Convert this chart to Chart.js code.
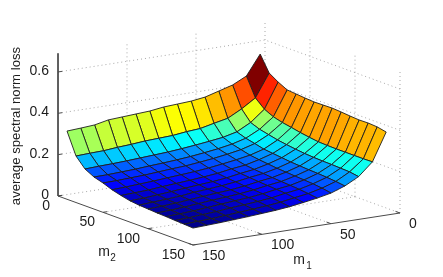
<!DOCTYPE html>
<html>
<head>
<meta charset="utf-8">
<style>
html, body { margin: 0; padding: 0; background: #fff; }
canvas { display: block; }
</style>
<script src="https://cdn.jsdelivr.net/npm/chart.js@4"></script>
</head>
<body>
<canvas id="myChart" width="443" height="277"></canvas>
<script>
// grid of the surface
const m1Values = [10, 20, 30, 40, 50, 60, 70, 80, 90, 100, 110, 120, 130, 140, 150];
const m2Values = [10, 20, 30, 40, 50, 60, 70, 80, 90, 100, 110, 120, 130, 140, 150];

// one row per m2, one column per m1
const lossM2_10 = [.558, .462, .429, .410, .391, .382, .378, .374, .365, .361, .357, .353, .339, .334, .330];
const lossM2_20 = [.482, .372, .329, .294, .280, .265, .260, .252, .249, .246, .240, .236, .230, .228, .225];
const lossM2_30 = [.454, .333, .279, .244, .228, .219, .211, .204, .198, .194, .190, .186, .183, .181, .178];
const lossM2_40 = [.432, .312, .262, .229, .211, .199, .190, .182, .176, .171, .167, .162, .159, .156, .155];
const lossM2_50 = [.428, .300, .252, .219, .200, .188, .178, .170, .163, .159, .154, .149, .146, .143, .142];
const lossM2_60 = [.424, .292, .242, .208, .189, .177, .167, .158, .151, .146, .141, .136, .132, .128, .125];
const lossM2_70 = [.421, .283, .235, .203, .183, .167, .159, .148, .141, .135, .130, .125, .119, .116, .113];
const lossM2_80 = [.422, .276, .229, .198, .178, .162, .153, .142, .134, .129, .123, .117, .111, .106, .103];
const lossM2_90 = [.423, .270, .224, .193, .173, .158, .149, .138, .130, .124, .119, .111, .106, .102, .098];
const lossM2_100 = [.420, .268, .221, .190, .170, .154, .145, .134, .126, .121, .115, .109, .103, .098, .095];
const lossM2_110 = [.416, .267, .219, .187, .167, .151, .142, .131, .123, .117, .112, .106, .100, .095, .092];
const lossM2_120 = [.413, .267, .218, .185, .164, .148, .139, .128, .120, .115, .109, .103, .097, .093, .090];
const lossM2_130 = [.414, .267, .216, .182, .161, .145, .136, .124, .117, .111, .106, .099, .095, .090, .087];
const lossM2_140 = [.411, .267, .214, .178, .156, .140, .130, .119, .112, .106, .101, .096, .091, .088, .085];
const lossM2_150 = [.402, .268, .207, .172, .148, .134, .123, .113, .106, .101, .096, .092, .088, .085, .082];
const lossRows = [lossM2_10, lossM2_20, lossM2_30, lossM2_40, lossM2_50, lossM2_60, lossM2_70, lossM2_80,
    lossM2_90, lossM2_100, lossM2_110, lossM2_120, lossM2_130, lossM2_140, lossM2_150];

// ticks
const m1Ticks = [0, 50, 100, 150];
const m2Ticks = [0, 50, 100, 150];
const zTicks = [0, 0.2, 0.4, 0.6];
const zTop = 0.69;
const lossMin = 0.082;
const lossMax = 0.558;

// the view, matlab style parallel projection
function project(m1, m2, z) {
    return {
        x: 265 - 1.38 * m1 + 0.9 * m2,
        y: 164 + 0.2133 * m1 + 0.3267 * m2 - 206.7 * z,
    };
}

function jet(v) {
    const c = (o) => Math.round(255 * Math.max(0, Math.min(1, 1.5 - Math.abs(4 * v - o))));
    return `rgb(${c(3)}, ${c(2)}, ${c(1)})`;
}

function lineSet(points, color, width, dash) {
    return {
        data: points,
        showLine: true,
        fill: false,
        tension: 0,
        pointRadius: 0,
        borderColor: color,
        borderWidth: width,
        borderDash: dash || [],
    };
}

const datasets = [];
const gridColor = '#a8a8a8';
const gridDash = [1, 3];
const axisColor = '#4a4a4a';

// back walls and floor
for (const t of m1Ticks) {
    if (t < 150) {
        datasets.push(lineSet([project(t, 0, 0), project(t, 150, 0)], gridColor, 1, gridDash));
        datasets.push(lineSet([project(t, 0, 0), project(t, 0, zTop)], gridColor, 1, gridDash));
    }
}
for (const t of m2Ticks) {
    if (t < 150) {
        datasets.push(lineSet([project(0, t, 0), project(150, t, 0)], gridColor, 1, gridDash));
    }
    if (t > 0) {
        datasets.push(lineSet([project(0, t, 0), project(0, t, zTop)], gridColor, 1, gridDash));
    }
}
for (const t of zTicks) {
    if (t > 0) {
        datasets.push(lineSet([project(150, 0, t), project(0, 0, t), project(0, 150, t)], gridColor, 1, gridDash));
    }
}

// axis lines and tick marks
datasets.push(lineSet([project(150, 0, zTop), project(150, 0, 0), project(150, 150, 0), project(0, 150, 0)], axisColor, 1));
for (const t of zTicks) {
    datasets.push(lineSet([project(150, 0, t), project(147, 0, t)], axisColor, 1));
}
for (const t of m2Ticks) {
    datasets.push(lineSet([project(150, t, 0), project(147, t, 0)], axisColor, 1));
}
for (const t of m1Ticks) {
    datasets.push(lineSet([project(t, 150, 0), project(t, 145, 0)], axisColor, 1));
}

// surface, back cells first so the front ones cover them
for (let j = 0; j < m2Values.length - 1; j++) {
    for (let i = 0; i < m1Values.length - 1; i++) {
        const corners = [
            project(m1Values[i], m2Values[j], lossRows[j][i]),
            project(m1Values[i + 1], m2Values[j], lossRows[j][i + 1]),
            project(m1Values[i + 1], m2Values[j + 1], lossRows[j + 1][i + 1]),
            project(m1Values[i], m2Values[j + 1], lossRows[j + 1][i]),
            project(m1Values[i], m2Values[j], lossRows[j][i]),
        ];
        const level = (lossRows[j][i] - lossMin) / (lossMax - lossMin);
        datasets.push({
            data: corners,
            showLine: true,
            fill: 'shape',
            tension: 0,
            pointRadius: 0,
            backgroundColor: jet(level),
            borderColor: '#1e1e1e',
            borderWidth: 0.9,
        });
    }
}

// chart.js paints dataset 0 last, so number them by paint order
datasets.forEach((d, idx) => { d.order = datasets.length - idx; });

const textFont = '14px "Liberation Sans"';

// tick labels and axis titles are placed on the same scales as the marks
const axisText = {
    id: 'axisText',
    afterDraw(chart) {
        const { ctx, scales } = chart;
        const put = (text, px, py, font) => {
            ctx.font = font || textFont;
            ctx.fillText(text, scales.x.getPixelForValue(px), scales.y.getPixelForValue(py));
        };
        ctx.save();
        ctx.fillStyle = '#1c1c1c';
        ctx.textBaseline = 'middle';

        ctx.textAlign = 'right';
        for (const t of zTicks) {
            const p = project(150, 0, t);
            put(String(t), p.x - 9, p.y - 1);
        }
        for (const t of m2Ticks) {
            const p = project(150, t, 0);
            put(String(t), p.x - 8, p.y + 10);
        }

        ctx.textAlign = 'left';
        for (const t of m1Ticks) {
            const p = project(t, 150, 0);
            put(String(t), p.x + 9, p.y + 11);
        }

        ctx.textAlign = 'center';
        put('m', 104, 252);
        put('2', 113, 258, '10px "Liberation Sans"');
        put('m', 299, 260);
        put('1', 309, 266, '10px "Liberation Sans"');

        ctx.translate(scales.x.getPixelForValue(16), scales.y.getPixelForValue(126));
        ctx.rotate(-Math.PI / 2);
        ctx.font = '13.2px "Liberation Sans"';
        ctx.fillText('average spectral norm loss', 0, 0);
        ctx.restore();
    },
};

const config = {
    type: 'scatter',
    data: { datasets: datasets },
    options: {
        responsive: false,
        animation: false,
        layout: { padding: 0 },
        plugins: { legend: { display: false }, tooltip: { enabled: false } },
        scales: {
            x: { type: 'linear', display: false, min: 0, max: 443 },
            y: { type: 'linear', display: false, min: 0, max: 277, reverse: true },
        },
    },
    plugins: [axisText],
};

const myChart = new Chart(document.getElementById('myChart'), config);
</script>
</body>
</html>
